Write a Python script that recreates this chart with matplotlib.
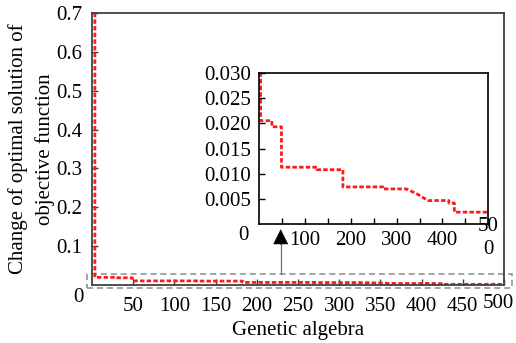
import matplotlib
matplotlib.use('Agg')
import matplotlib.pyplot as plt
from matplotlib.patches import Rectangle

plt.rcParams['font.family'] = ['Liberation Serif', 'DejaVu Serif']
plt.rcParams['font.size'] = 15

## donnees
generation = [3.5, 3.5, 28, 28, 49, 49, 127, 127, 183, 183, 270, 270, 321, 345, 368, 414, 414, 426, 426, 500]
optimum = [0.700, 0.0205, 0.0205, 0.0193, 0.0193, 0.0113, 0.0113, 0.0108, 0.0108, 0.0074, 0.0074, 0.0070,
           0.0070, 0.0060, 0.0047, 0.0047, 0.0042, 0.0042, 0.0024, 0.0024]

main_xticks = [50, 100, 150, 200, 250, 300, 350, 400, 450, 500]
main_xlabels = ['50', '100', '150', '200', '250', '300', '350', '400', '450', '']
main_yticks = [0.1, 0.2, 0.3, 0.4, 0.5, 0.6, 0.7]
inset_xticks = [100, 200, 300, 400, 500]
inset_xlabels = ['100', '200', '300', '400', '']
inset_yticks = [0.005, 0.010, 0.015, 0.020, 0.025, 0.030]

red = '#ff1a1a'
dash = (0, (1.6, 0.8))

fig = plt.figure(figsize=(5.16, 3.43), dpi=100)
ax = fig.add_axes([92/516, 1-285.3/343, 412/516, 272.6/343])
ax.plot(generation, optimum, color=red, lw=2, linestyle=dash)
ax.set_xlim(0, 500)
ax.set_ylim(0, 0.7)
ax.set_xticks(main_xticks)
ax.set_xticklabels(main_xlabels)
ax.set_yticks(main_yticks)
ax.set_yticklabels([str(v) for v in main_yticks])
ax.tick_params(direction='in', length=4, width=1, color='#404040', pad=7)
ax.tick_params(axis='x', pad=8.5)
for s in ax.spines.values():
        s.set_color('#404040')
        s.set_linewidth(1.3)
ax.text(-14/0.824, 0.7*(285.3-297)/272.6, '0', ha='center', va='center', clip_on=False)
# 500 colle au bord droit de l'image
fig.text(514/516, 1-304/343, '500', ha='right', va='center')

# cadre pointille autour de la zone agrandie
ax.add_patch(Rectangle((-6.5, -0.006), 516.5, 0.034, fill=False, ec='#8c8c8c', lw=1.1,
                       ls=(0, (4, 2.5)), clip_on=False))
# fleche vers l'encart
ax.plot([229, 229], [0.028, 0.115], color='#707070', lw=0.9)
ax.annotate('', xy=(229, 0.144), xytext=(229, 0.105),
            arrowprops=dict(arrowstyle='-|>,head_length=1.0,head_width=0.5', mutation_scale=10,
                            color='black', lw=0.5, shrinkA=0, shrinkB=0))

## encart
ins = fig.add_axes([259/516, 1-224.3/343, 229.3/516, 151.6/343])
ins.plot(generation, optimum, color=red, lw=2, linestyle=dash)
ins.set_xlim(0, 500)
ins.set_ylim(0, 0.030)
ins.set_xticks(inset_xticks)
ins.set_xticklabels(inset_xlabels)
ins.set_xticks([50, 150, 250, 350, 450], minor=True)
ins.set_yticks(inset_yticks)
ins.set_yticklabels(['%.3f' % v for v in inset_yticks])
ins.tick_params(which='both', direction='in', length=4, width=1, color='black')
ins.tick_params(axis='x', pad=5)
ins.tick_params(axis='y', pad=6)
for s in ins.spines.values():
        s.set_color('black')
        s.set_linewidth(1.2)
ins.text(-16/229.3*500, -11/151.6*0.030, '0', ha='center', va='center', clip_on=False)
# le libelle 500 est coupe sur deux lignes dans l'original
ins.text(500, -14/151.6*0.030, '50\n0', ha='center', va='center', linespacing=1.3, clip_on=False)

fig.text(298/516, 1-330/343, 'Genetic algebra', ha='center', va='center')
fig.text(31.5/516, 1-149/343, 'Change of optimal solution of\nobjective function', ha='center', va='center',
         rotation=90, linespacing=1.45, multialignment='center')

fig.savefig('out.png', dpi=100)
